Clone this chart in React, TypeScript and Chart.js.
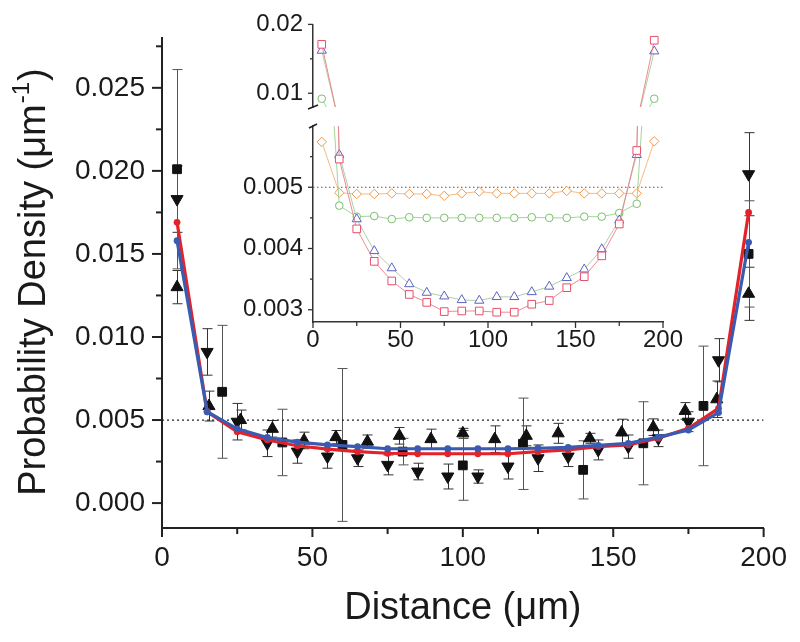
import React, { useEffect, useRef } from 'react';
import { Chart, registerables } from 'chart.js';

Chart.register(...registerables);

const FONT = "'Liberation Sans', Arial, Helvetica, sans-serif";
const INK = '#1a1a1a';

// ---------- Main chart data ----------
const SIM_X = [5, 15, 25, 35, 45, 55, 65, 75, 85, 95, 105, 115, 125, 135, 145, 155, 165, 175, 185, 195];
const RED_SIM = [0.0169, 0.0055, 0.0043, 0.0038, 0.00345, 0.00325, 0.0031, 0.003, 0.00297, 0.00297, 0.00297, 0.00297, 0.0031, 0.0032, 0.0034, 0.0035, 0.0039, 0.0045, 0.0057, 0.0175];
const BLUE_SIM = [0.0158, 0.0055, 0.00447, 0.00395, 0.00367, 0.0035, 0.0034, 0.00327, 0.00327, 0.00327, 0.00327, 0.00327, 0.0033, 0.00335, 0.00347, 0.0036, 0.00397, 0.0044, 0.00545, 0.0157];

const SQ_X = [5, 20, 40, 60, 80, 100, 120, 140, 160, 180, 195];
const SQ_Y = [0.0201, 0.0067, 0.00365, 0.0035, 0.0031, 0.00227, 0.00357, 0.002, 0.0036, 0.00585, 0.015];
const SQ_ERR = [0.006, 0.004, 0.002, 0.0046, 0.0008, 0.0021, 0.00275, 0.00175, 0.0025, 0.0036, 0.0032];

const DN_X = [5, 15, 25, 35, 45, 55, 65, 75, 85, 95, 105, 115, 125, 135, 145, 155, 165, 175, 185, 195];
const DN_Y = [0.0183, 0.0091, 0.0049, 0.0036, 0.0031, 0.0028, 0.0027, 0.0023, 0.0019, 0.0016, 0.0016, 0.0022, 0.0027, 0.0028, 0.0032, 0.0034, 0.0039, 0.0049, 0.0086, 0.0198];
const DN_ERR = [0.002, 0.0014, 0.0011, 0.0008, 0.0007, 0.0007, 0.0005, 0.0006, 0.0005, 0.00075, 0.0004, 0.00075, 0.0008, 0.0006, 0.0006, 0.0007, 0.0005, 0.0006, 0.0013, 0.0025];

const UP_X = [5, 15.6, 26.1, 36.7, 47.2, 57.8, 68.3, 78.9, 89.4, 100, 110.6, 121.1, 131.7, 142.2, 152.8, 163.3, 173.9, 184.4, 195];
const UP_Y = [0.013, 0.00584, 0.005, 0.00447, 0.00377, 0.00397, 0.0037, 0.00405, 0.00385, 0.0042, 0.00385, 0.00405, 0.0042, 0.0039, 0.00425, 0.00457, 0.00555, 0.00625, 0.0126];
const UP_ERR = [0.001, 0.0009, 0.0006, 0.0005, 0.0005, 0.0004, 0.0004, 0.0005, 0.0006, 0.0003, 0.0008, 0.0006, 0.0006, 0.0003, 0.0008, 0.0005, 0.0005, 0.0011, 0.0016];

const REF_X = [0, 200];
const REF_Y = [0.005, 0.005];

const MAIN_X_TICKS = [0, 50, 100, 150, 200];
const MAIN_X_MINOR = [25, 75, 125, 175];
const MAIN_Y_TICKS = [0, 0.005, 0.01, 0.015, 0.02, 0.025];
const MAIN_Y_MINOR = [0.0025, 0.0075, 0.0125, 0.0175, 0.0225, 0.0275];

const X_TITLE = 'Distance (μm)';
const Y_TITLE_MAIN = 'Probability Density (μm';
const Y_TITLE_SUP = '-1';
const Y_TITLE_END = ')';

// ---------- Inset data ----------
const INSET_X = [5, 15, 25, 35, 45, 55, 65, 75, 85, 95, 105, 115, 125, 135, 145, 155, 165, 175, 185, 195];
const INSET_SQUARE = [0.0171, 0.00546, 0.00432, 0.00379, 0.00347, 0.00325, 0.00312, 0.00297, 0.00298, 0.00298, 0.00296, 0.00296, 0.00309, 0.00315, 0.00336, 0.00354, 0.00388, 0.0044, 0.0056, 0.0177];
const INSET_TRIANGLE = [0.0162, 0.00553, 0.00448, 0.00396, 0.00368, 0.00342, 0.00328, 0.00322, 0.00316, 0.00315, 0.00321, 0.00321, 0.00329, 0.00338, 0.00352, 0.00366, 0.00399, 0.00446, 0.00553, 0.0161];
const INSET_CIRCLE = [0.0092, 0.0047, 0.00452, 0.00453, 0.00448, 0.00451, 0.0045, 0.0045, 0.0045, 0.0045, 0.0045, 0.0045, 0.00451, 0.0045, 0.0045, 0.00452, 0.00452, 0.00458, 0.00473, 0.0092];
const INSET_DIAMOND = [0.00574, 0.00491, 0.00489, 0.00489, 0.0049, 0.00489, 0.00489, 0.00486, 0.0049, 0.00493, 0.0049, 0.0049, 0.0049, 0.0049, 0.00494, 0.0049, 0.0049, 0.0049, 0.0049, 0.00575];

const INSET_X_TICKS = [0, 50, 100, 150, 200];
const INSET_X_MINOR = [25, 75, 125, 175];
const INSET_LOW_Y_TICKS = [0.003, 0.004, 0.005];
const INSET_LOW_Y_MINOR = [0.0035, 0.0045, 0.0055];
const INSET_UP_Y_TICKS = [0.01, 0.02];
const INSET_UP_Y_MINOR = [0.015];

const pts = (xs: number[], ys: number[]) => xs.map((x, i) => ({ x, y: ys[i] }));

// ---------- plugins ----------
const errorBarPlugin = {
  id: 'errorBars',
  beforeDatasetsDraw(chart: any) {
    const { ctx } = chart;
    const x = chart.scales.x;
    const y = chart.scales.y;
    ctx.save();
    chart.data.datasets.forEach((ds: any) => {
      if (!ds.errors) return;
      ctx.strokeStyle = ds.errorColor || '#333';
      ctx.lineWidth = 1;
      ds.data.forEach((p: any, i: number) => {
        const e = ds.errors[i];
        const px = Math.round(x.getPixelForValue(p.x)) + 0.5;
        const top = y.getPixelForValue(p.y + e);
        const bot = y.getPixelForValue(p.y - e);
        ctx.beginPath();
        ctx.moveTo(px, top);
        ctx.lineTo(px, bot);
        ctx.moveTo(px - 5, top);
        ctx.lineTo(px + 5, top);
        ctx.moveTo(px - 5, bot);
        ctx.lineTo(px + 5, bot);
        ctx.stroke();
      });
    });
    ctx.restore();
  },
};

function makeTicksPlugin(cfg: any) {
  return {
    id: 'axisTicks',
    afterDraw(chart: any) {
      const { ctx, chartArea } = chart;
      ctx.save();
      ctx.strokeStyle = cfg.color;
      ctx.lineWidth = cfg.width;
      cfg.axes.forEach((a: any) => {
        const s = chart.scales[a.id];
        const draw = (vals: number[], len: number) =>
          vals.forEach((v) => {
            const p = s.getPixelForValue(v);
            ctx.beginPath();
            if (s.isHorizontal()) {
              ctx.moveTo(p, chartArea.bottom);
              ctx.lineTo(p, chartArea.bottom + len);
            } else {
              ctx.moveTo(chartArea.left, p);
              ctx.lineTo(chartArea.left - len, p);
            }
            ctx.stroke();
          });
        draw(a.major, a.majorLen);
        draw(a.minor, a.minorLen);
      });
      ctx.restore();
    },
  };
}

const titlesPlugin = {
  id: 'titles',
  afterDraw(chart: any) {
    const { ctx, chartArea } = chart;
    ctx.save();
    ctx.fillStyle = INK;
    ctx.font = `38px ${FONT}`;
    ctx.textAlign = 'center';
    ctx.textBaseline = 'alphabetic';
    ctx.fillText(X_TITLE, (chartArea.left + chartArea.right) / 2, 619);

    ctx.translate(45, 283);
    ctx.rotate(-Math.PI / 2);
    ctx.font = `38px ${FONT}`;
    const w1 = ctx.measureText(Y_TITLE_MAIN).width;
    const w3 = ctx.measureText(Y_TITLE_END).width;
    ctx.font = `24px ${FONT}`;
    const w2 = ctx.measureText(Y_TITLE_SUP).width;
    const x0 = -(w1 + w2 + w3) / 2;
    ctx.textAlign = 'left';
    ctx.font = `38px ${FONT}`;
    ctx.fillText(Y_TITLE_MAIN, x0, 0);
    ctx.font = `24px ${FONT}`;
    ctx.fillText(Y_TITLE_SUP, x0 + w1 + 1, -16);
    ctx.font = `38px ${FONT}`;
    ctx.fillText(Y_TITLE_END, x0 + w1 + w2 + 2, 0);
    ctx.restore();
  },
};

function makeBreakPlugin(where: 'upper' | 'lower') {
  return {
    id: 'axisBreak',
    afterDraw(chart: any) {
      const { ctx, chartArea } = chart;
      ctx.save();
      ctx.strokeStyle = '#222';
      ctx.lineWidth = 1.6;
      ctx.beginPath();
      if (where === 'upper') {
        const yb = chartArea.bottom;
        ctx.moveTo(chartArea.left - 5, yb + 2);
        ctx.lineTo(chartArea.left + 5, yb - 2);
      } else {
        const yt = chartArea.top;
        ctx.moveTo(chartArea.left - 4, yt + 2);
        ctx.lineTo(chartArea.left + 4, yt - 2);
      }
      ctx.stroke();
      ctx.restore();
    },
  };
}

const SQ_MARK = '#e5506a';
const SQ_LINE = '#ec7c88';
const TRI_MARK = '#5a62c0';
const TRI_LINE = '#a6c89c';
const CIR_MARK = '#78c06a';
const CIR_LINE = '#98d08c';
const DIA_MARK = '#f0984a';
const DIA_LINE = '#f4b478';

function insetDatasets(withRef: boolean) {
  const common = {
    showLine: true,
    borderWidth: 0.9,
    pointBorderWidth: 1,
    pointBackgroundColor: '#ffffff',
  };
  const ds: any[] = [
    { ...common, label: 'Squares', data: pts(INSET_X, INSET_SQUARE), borderColor: SQ_LINE, pointBorderColor: SQ_MARK, pointStyle: 'rect', pointRadius: 5.4 },
    { ...common, label: 'Triangles', data: pts(INSET_X, INSET_TRIANGLE), borderColor: TRI_LINE, pointBorderColor: TRI_MARK, pointStyle: 'triangle', pointRadius: 5.3 },
    { ...common, label: 'Circles', data: pts(INSET_X, INSET_CIRCLE), borderColor: CIR_LINE, pointBorderColor: CIR_MARK, pointStyle: 'circle', pointRadius: 3.8 },
    { ...common, label: 'Diamonds', data: pts(INSET_X, INSET_DIAMOND), borderColor: DIA_LINE, pointBorderColor: DIA_MARK, pointStyle: 'rectRot', pointRadius: 4.7 },
  ];
  if (withRef) {
    ds.push({ label: 'Ref', data: pts(REF_X, REF_Y), showLine: true, borderColor: '#555', borderWidth: 1, borderDash: [1.5, 2.5], pointRadius: 0 });
  }
  return ds;
}

export default function App() {
  const mainRef = useRef<HTMLCanvasElement>(null);
  const lowRef = useRef<HTMLCanvasElement>(null);
  const upRef = useRef<HTMLCanvasElement>(null);

  useEffect(() => {
    const charts: Chart[] = [];

    // ---------- Main chart ----------
    charts.push(
      new Chart(mainRef.current as HTMLCanvasElement, {
        type: 'scatter',
        data: {
          datasets: [
            { label: 'Simulation (blue)', data: pts(SIM_X, BLUE_SIM), showLine: true, borderColor: '#3a5bb0', backgroundColor: '#3a5bb0', borderWidth: 3.2, pointRadius: 3.4, pointBorderWidth: 0 },
            { label: 'Simulation (red)', data: pts(SIM_X, RED_SIM), showLine: true, borderColor: '#e3222a', backgroundColor: '#e3222a', borderWidth: 3.2, pointRadius: 3.4, pointBorderWidth: 0 },
            { label: 'Up', data: pts(UP_X, UP_Y), pointStyle: 'triangle', pointRadius: 7, backgroundColor: '#111', borderColor: '#111', borderWidth: 1, errors: UP_ERR, errorColor: '#333' } as any,
            { label: 'Down', data: pts(DN_X, DN_Y), pointStyle: 'triangle', pointRotation: 180, pointRadius: 7, backgroundColor: '#111', borderColor: '#111', borderWidth: 1, errors: DN_ERR, errorColor: '#333' } as any,
            { label: 'Square', data: pts(SQ_X, SQ_Y), pointStyle: 'rect', pointRadius: 6.2, backgroundColor: '#111', borderColor: '#111', borderWidth: 1, errors: SQ_ERR, errorColor: '#555' } as any,
            { label: 'Ref', data: pts(REF_X, REF_Y), showLine: true, borderColor: '#222', borderWidth: 1.3, borderDash: [2, 3], pointRadius: 0 },
          ],
        },
        options: {
          animation: false,
          responsive: false,
          devicePixelRatio: 1,
          events: [],
          layout: { padding: { left: 0, right: 34, top: 38, bottom: 0 } },
          plugins: { legend: { display: false }, tooltip: { enabled: false } },
          scales: {
            x: {
              type: 'linear',
              min: 0,
              max: 200,
              afterFit: (s: any) => { s.height = 114; },
              afterBuildTicks: (s: any) => { s.ticks = MAIN_X_TICKS.map((value) => ({ value })); },
              grid: { display: false, drawTicks: false },
              border: { display: true, width: 2, color: '#222' },
              ticks: { font: { family: FONT, size: 28 }, color: INK, padding: 13, maxRotation: 0, autoSkip: false },
            },
            y: {
              type: 'linear',
              min: -0.0015,
              max: 0.028,
              afterFit: (s: any) => { s.width = 162; },
              afterBuildTicks: (s: any) => { s.ticks = MAIN_Y_TICKS.map((value) => ({ value })); },
              grid: { display: false, drawTicks: false },
              border: { display: true, width: 2, color: '#222' },
              ticks: { font: { family: FONT, size: 28 }, color: INK, padding: 17, autoSkip: false, callback: (v: any) => Number(v).toFixed(3) },
            },
          },
        } as any,
        plugins: [
          errorBarPlugin,
          makeTicksPlugin({
            color: '#222',
            width: 2,
            axes: [
              { id: 'x', major: MAIN_X_TICKS, minor: MAIN_X_MINOR, majorLen: 9, minorLen: 6 },
              { id: 'y', major: MAIN_Y_TICKS, minor: MAIN_Y_MINOR, majorLen: 10, minorLen: 6 },
            ],
          }),
          titlesPlugin,
        ],
      })
    );

    // ---------- Inset lower part ----------
    charts.push(
      new Chart(lowRef.current as HTMLCanvasElement, {
        type: 'scatter',
        data: { datasets: insetDatasets(true) },
        options: {
          animation: false,
          responsive: false,
          devicePixelRatio: 1,
          events: [],
          layout: { padding: { left: 0, right: 137, top: 126, bottom: 0 } },
          plugins: { legend: { display: false }, tooltip: { enabled: false } },
          scales: {
            x: {
              type: 'linear',
              min: 0,
              max: 200,
              afterFit: (s: any) => { s.height = 320; },
              afterBuildTicks: (s: any) => { s.ticks = INSET_X_TICKS.map((value) => ({ value })); },
              grid: { display: false, drawTicks: false },
              border: { display: true, width: 1.5, color: '#333' },
              ticks: { font: { family: FONT, size: 24 }, color: INK, padding: 4, maxRotation: 0, autoSkip: false },
            },
            y: {
              type: 'linear',
              min: 0.0028,
              max: 0.006,
              afterFit: (s: any) => { s.width = 313; },
              afterBuildTicks: (s: any) => { s.ticks = INSET_LOW_Y_TICKS.map((value) => ({ value })); },
              grid: { display: false, drawTicks: false },
              border: { display: true, width: 1.5, color: '#333' },
              ticks: { font: { family: FONT, size: 24 }, color: INK, padding: 10, autoSkip: false, callback: (v: any) => Number(v).toFixed(3) },
            },
          },
        } as any,
        plugins: [
          makeTicksPlugin({
            color: '#333',
            width: 1.3,
            axes: [
              { id: 'x', major: INSET_X_TICKS, minor: INSET_X_MINOR, majorLen: 6, minorLen: 4 },
              { id: 'y', major: INSET_LOW_Y_TICKS, minor: INSET_LOW_Y_MINOR, majorLen: 5, minorLen: 3 },
            ],
          }),
          makeBreakPlugin('lower'),
        ],
      })
    );

    // ---------- Inset upper part ----------
    charts.push(
      new Chart(upRef.current as HTMLCanvasElement, {
        type: 'scatter',
        data: { datasets: insetDatasets(false) },
        options: {
          animation: false,
          responsive: false,
          devicePixelRatio: 1,
          events: [],
          layout: { padding: { left: 0, right: 137, top: 24, bottom: 535 } },
          plugins: { legend: { display: false }, tooltip: { enabled: false } },
          scales: {
            x: { type: 'linear', min: 0, max: 200, display: false },
            y: {
              type: 'linear',
              min: 0.008,
              max: 0.02,
              afterFit: (s: any) => { s.width = 313; },
              afterBuildTicks: (s: any) => { s.ticks = INSET_UP_Y_TICKS.map((value) => ({ value })); },
              grid: { display: false, drawTicks: false },
              border: { display: true, width: 1.5, color: '#333' },
              ticks: { font: { family: FONT, size: 24 }, color: INK, padding: 10, autoSkip: false, callback: (v: any) => Number(v).toFixed(2) },
            },
          },
        } as any,
        plugins: [
          makeTicksPlugin({
            color: '#333',
            width: 1.3,
            axes: [{ id: 'y', major: INSET_UP_Y_TICKS, minor: INSET_UP_Y_MINOR, majorLen: 5, minorLen: 3 }],
          }),
          makeBreakPlugin('upper'),
        ],
      })
    );

    return () => charts.forEach((c) => c.destroy());
  }, []);

  const cs: React.CSSProperties = { position: 'absolute', left: 0, top: 0 };
  return (
    <div style={{ position: 'fixed', left: 0, top: 0, width: 800, height: 642, background: '#fff' }}>
      <canvas ref={mainRef} width={800} height={642} style={cs} />
      <canvas ref={lowRef} width={800} height={642} style={cs} />
      <canvas ref={upRef} width={800} height={642} style={cs} />
    </div>
  );
}
